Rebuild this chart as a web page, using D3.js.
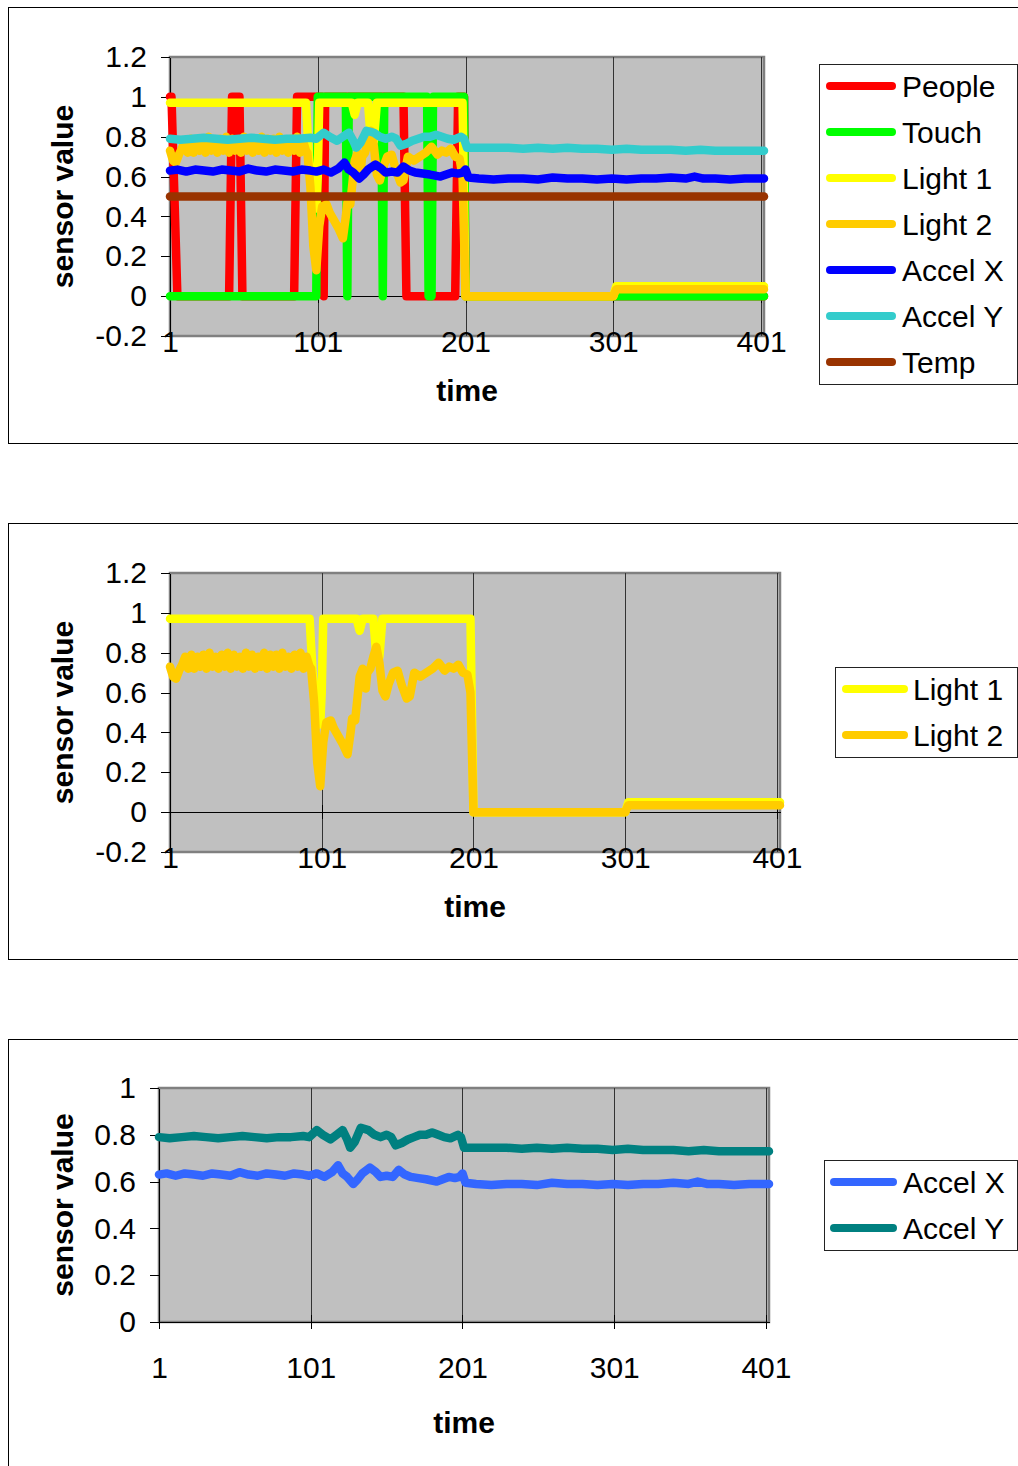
<!DOCTYPE html>
<html lang="en">
<head>
	<meta charset="utf-8">
	<title>Sensor values over time</title>
	<script src="https://d3js.org/d3.v7.min.js"></script>
	<style type="text/css">
		body {
			margin: 0;
			background: white;
		}
		svg {
			display: block;
			font-family: "Liberation Sans", Arial, sans-serif;
		}
		.axis path,
		.axis line {
			fill: none;
			stroke: black;
			shape-rendering: crispEdges;
		}
		.axis text {
			font-family: "Liberation Sans", Arial, sans-serif;
			font-size: 30px;
			fill: black;
		}
		.title {
			font-size: 30px;
			font-weight: bold;
		}
		.legend text {
			font-size: 30px;
		}
	</style>
</head>
<body>
<script type="text/javascript">
// Time axis
var timeDomain = [1, 403];
var xTicks = [1, 101, 201, 301, 401];

// Value ticks for each chart
var yTicksFull = [-0.2, 0, 0.2, 0.4, 0.6, 0.8, 1, 1.2];
var yTicksAccel = [0, 0.2, 0.4, 0.6, 0.8, 1];

// Series: time points and sensor values
var peopleT = [1, 2, 6, 41, 43, 48, 50, 85, 87, 104, 105, 106, 159, 161, 194, 196, 200, 201, 403];
var peopleV = [1, 1, 0, 0, 1, 1, 0, 0, 1, 1, 0, 1, 1, 0, 0, 1, 1, 0, 0];

var touchT = [1, 100, 101, 120, 121, 122, 144, 145, 146, 175, 176, 178, 179, 200, 201, 403];
var touchV = [0, 0, 1, 1, 0, 1, 1, 0, 1, 1, 0, 0, 1, 1, 0, 0];

var light1T = [1, 93, 95, 98, 100, 101, 102, 124, 126, 128, 135, 137, 139, 141, 199, 201, 301, 303, 403];
var light1V = [0.97, 0.97, 0.70, 0.45, 0.44, 0.60, 0.97, 0.97, 0.91, 0.97, 0.97, 0.78, 0.78, 0.97, 0.97, 0, 0, 0.05, 0.05];

var light2T = [1, 3, 5, 7, 9, 11, 13, 15, 17, 19, 21, 23, 25, 27, 29, 31, 33, 35, 37, 39, 41, 43, 45, 47, 49, 51, 53, 55, 57, 59,
	61, 63, 65, 67, 69, 71, 73, 75, 77, 79, 81, 83, 85, 87, 89, 91, 93,
	94, 96, 98, 100, 102, 104, 107, 109, 112, 115, 118, 120, 121, 123, 126, 128, 130, 131, 133, 135, 137, 139, 141, 143, 145, 148,
	151, 154, 157, 159, 162, 166, 170, 174, 178, 182, 185, 188, 191, 194, 197, 199, 201, 301, 303, 403];
var light2V = [0.73, 0.68, 0.67, 0.71, 0.74,
	0.78, 0.72, 0.79, 0.72, 0.78, 0.73, 0.79, 0.72, 0.80, 0.73, 0.78, 0.72, 0.79, 0.73, 0.80, 0.72, 0.79, 0.73, 0.78, 0.72, 0.80,
	0.73, 0.79, 0.72, 0.78, 0.73, 0.80, 0.72, 0.79, 0.73, 0.79, 0.72, 0.80, 0.73, 0.78, 0.72, 0.79, 0.73, 0.80, 0.72, 0.78, 0.73,
	0.72, 0.55, 0.25, 0.13, 0.35, 0.45, 0.46, 0.42, 0.38, 0.34, 0.29, 0.40, 0.47, 0.46, 0.68, 0.72, 0.62, 0.70, 0.72, 0.78, 0.83, 0.75,
	0.61, 0.58, 0.64, 0.70, 0.71, 0.63, 0.57, 0.58, 0.70, 0.68, 0.70, 0.72, 0.75, 0.71, 0.73, 0.72, 0.74, 0.70, 0.69, 0.60, 0, 0, 0.035, 0.035];

var accelXT = [1, 6, 12, 18, 24, 30, 36, 42, 48, 54, 60, 66, 72, 78, 84, 90, 96, 100, 105, 110, 115, 119, 122, 125, 129, 132, 135,
	140, 144, 147, 151, 155, 159, 163, 167, 172, 177, 184, 188, 192, 196, 199, 201, 203, 210, 220, 230, 240, 250, 260, 270, 280,
	290, 300, 310, 320, 330, 340, 350, 356, 362, 370, 380, 390, 403];
var accelXV = [0.63, 0.635, 0.625, 0.635, 0.63, 0.625, 0.635, 0.63, 0.625, 0.64, 0.63, 0.625, 0.635, 0.63, 0.625, 0.635, 0.63,
	0.625, 0.635, 0.62, 0.64, 0.67, 0.635, 0.62, 0.59, 0.61, 0.635, 0.66, 0.64, 0.62, 0.625, 0.62, 0.65, 0.63, 0.62, 0.615, 0.61,
	0.60, 0.61, 0.62, 0.615, 0.62, 0.635, 0.595, 0.59, 0.585, 0.59, 0.59, 0.585, 0.595, 0.59, 0.59, 0.585, 0.59, 0.585, 0.59,
	0.59, 0.595, 0.59, 0.60, 0.59, 0.59, 0.585, 0.59, 0.59];

var accelYT = [1, 8, 16, 24, 32, 40, 48, 56, 64, 72, 80, 88, 96, 100, 105, 109, 114, 118, 122, 125, 127, 130, 134, 139, 143, 147,
	151, 154, 157, 161, 165, 169, 173, 177, 181, 185, 189, 193, 198, 200, 202, 210, 220, 230, 240, 250, 260, 270, 280, 290, 300,
	310, 320, 330, 340, 350, 360, 370, 380, 390, 403];
var accelYV = [0.79, 0.785, 0.79, 0.795, 0.79, 0.785, 0.79, 0.795, 0.79, 0.785, 0.79, 0.79, 0.795, 0.79, 0.82, 0.80, 0.78, 0.80,
	0.82, 0.78, 0.745, 0.77, 0.83, 0.82, 0.80, 0.79, 0.80, 0.79, 0.755, 0.765, 0.78, 0.79, 0.80, 0.80, 0.81, 0.80, 0.79, 0.785,
	0.80, 0.79, 0.745, 0.745, 0.745, 0.745, 0.74, 0.745, 0.74, 0.745, 0.74, 0.74, 0.735, 0.74, 0.735, 0.735, 0.735, 0.73, 0.735,
	0.73, 0.73, 0.73, 0.73];

var tempT = [1, 403];
var tempV = [0.5, 0.5];

// Which series go in each chart, and their colours
var chart1Names = ["People", "Touch", "Light 1", "Light 2", "Accel X", "Accel Y", "Temp"];
var chart1Colors = ["#ff0000", "#00ff00", "#ffff00", "#ffcc00", "#0000ff", "#33cccc", "#993300"];
var chart2Names = ["Light 1", "Light 2"];
var chart2Colors = ["#ffff00", "#ffcc00"];
var chart3Names = ["Accel X", "Accel Y"];
var chart3Colors = ["#3366ff", "#008080"];

// pair up time and value arrays
function zip(ts, vs) {
	return ts.map(function(t, i) { return {t: t, v: vs[i]}; });
}

var seriesData = {
	"People": zip(peopleT, peopleV),
	"Touch": zip(touchT, touchV),
	"Light 1": zip(light1T, light1V),
	"Light 2": zip(light2T, light2V),
	"Accel X": zip(accelXT, accelXV),
	"Accel Y": zip(accelYT, accelYV),
	"Temp": zip(tempT, tempV)
};

// Layout of the three charts
var charts = [
	{boxTop: 7, boxHeight: 436, left: 170, right: 764, top: 57, bottom: 336, yDomain: [-0.2, 1.2], yTicks: yTicksFull,
	 labelY: 341, titleY: 390, names: chart1Names, colors: chart1Colors,
	 legend: {x: 819, top: 64, sampleX: 830, sampleW: 62, textX: 902}},
	{boxTop: 523, boxHeight: 436, left: 170, right: 780, top: 573, bottom: 852, yDomain: [-0.2, 1.2], yTicks: yTicksFull,
	 labelY: 857, titleY: 906, names: chart2Names, colors: chart2Colors,
	 legend: {x: 835, top: 667, sampleX: 846, sampleW: 58, textX: 913}},
	{boxTop: 1039, boxHeight: 500, left: 159, right: 769, top: 1088, bottom: 1322, yDomain: [0, 1], yTicks: yTicksAccel,
	 labelY: 1367, titleY: 1422, names: chart3Names, colors: chart3Colors,
	 legend: {x: 824, top: 1160, sampleX: 834, sampleW: 59, textX: 903}}
];

var svg = d3.select("body")
	.append("svg")
	.attr("width", 1018)
	.attr("height", 1466);

function fmt(d) {
	return String(Math.round(d * 10) / 10);
}

function drawChart(cfg) {
	var xScale = d3.scaleLinear().domain(timeDomain).range([cfg.left, cfg.right]);
	var yScale = d3.scaleLinear().domain(cfg.yDomain).range([cfg.bottom, cfg.top]);

	// outer frame (runs off the right edge)
	svg.append("rect")
		.attr("x", 8.5)
		.attr("y", cfg.boxTop + 0.5)
		.attr("width", 1100)
		.attr("height", cfg.boxHeight)
		.attr("fill", "none")
		.attr("stroke", "black");

	// plot area
	svg.append("rect")
		.attr("x", cfg.left)
		.attr("y", cfg.top)
		.attr("width", cfg.right - cfg.left)
		.attr("height", cfg.bottom - cfg.top)
		.attr("fill", "#c0c0c0")
		.attr("stroke", "#808080")
		.attr("stroke-width", 2.5);

	// vertical gridlines
	svg.append("g")
		.selectAll("line")
		.data(xTicks.slice(1))
		.join("line")
		.attr("x1", function(d) { return Math.round(xScale(d)) + 0.5; })
		.attr("x2", function(d) { return Math.round(xScale(d)) + 0.5; })
		.attr("y1", cfg.top)
		.attr("y2", cfg.bottom)
		.attr("stroke", "#333");

	// y axis
	svg.append("g")
		.attr("class", "axis")
		.attr("transform", "translate(" + cfg.left + ",0)")
		.call(d3.axisLeft(yScale).tickValues(cfg.yTicks).tickSize(9).tickSizeOuter(0).tickPadding(14).tickFormat(fmt));

	// x axis along value 0, ticks crossing the line
	var xAxisG = svg.append("g")
		.attr("class", "axis")
		.attr("transform", "translate(0," + yScale(0) + ")")
		.call(d3.axisBottom(xScale).tickValues(xTicks).tickSize(7).tickSizeOuter(0).tickFormat(""));
	xAxisG.selectAll(".tick line").attr("y1", -7);

	// x tick labels, placed low
	var labels = svg.append("g")
		.attr("class", "axis")
		.attr("transform", "translate(0," + cfg.labelY + ")")
		.call(d3.axisBottom(xScale).tickValues(xTicks).tickSize(0).tickPadding(0));
	labels.select(".domain").remove();
	labels.selectAll("text").attr("y", 0).attr("dy", "0.36em");

	// the lines, later series on top
	var line = d3.line()
		.x(function(d) { return xScale(d.t); })
		.y(function(d) { return yScale(d.v); });

	svg.append("g")
		.selectAll("path")
		.data(cfg.names)
		.join("path")
		.attr("d", function(d) { return line(seriesData[d]); })
		.attr("fill", "none")
		.attr("stroke", function(d, i) { return cfg.colors[i]; })
		.attr("stroke-width", 8.5)
		.attr("stroke-linejoin", "round")
		.attr("stroke-linecap", "round");

	// axis titles
	svg.append("text")
		.attr("class", "title")
		.attr("x", (cfg.left + cfg.right) / 2)
		.attr("y", cfg.titleY)
		.attr("dy", "0.36em")
		.attr("text-anchor", "middle")
		.text("time");

	svg.append("text")
		.attr("class", "title")
		.attr("transform", "translate(62," + (cfg.top + cfg.bottom) / 2 + ") rotate(-90)")
		.attr("dy", "0.36em")
		.attr("text-anchor", "middle")
		.text("sensor value");

	// legend
	var lg = svg.append("g").attr("class", "legend");
	var rowH = 46;
	lg.append("rect")
		.attr("x", cfg.legend.x + 0.5)
		.attr("y", cfg.legend.top + 0.5)
		.attr("width", 1017 - cfg.legend.x)
		.attr("height", cfg.names.length * rowH - 2)
		.attr("fill", "white")
		.attr("stroke", "#222");

	var rows = lg.selectAll("g.row")
		.data(cfg.names)
		.join("g")
		.attr("class", "row")
		.attr("transform", function(d, i) { return "translate(0," + (cfg.legend.top + 22 + i * rowH) + ")"; });

	rows.append("line")
		.attr("x1", cfg.legend.sampleX)
		.attr("x2", cfg.legend.sampleX + cfg.legend.sampleW)
		.attr("stroke", function(d, i) { return cfg.colors[i]; })
		.attr("stroke-width", 8)
		.attr("stroke-linecap", "round");

	rows.append("text")
		.attr("x", cfg.legend.textX)
		.attr("dy", "0.36em")
		.text(function(d) { return d; });
}

charts.forEach(drawChart);
</script>
</body>
</html>
